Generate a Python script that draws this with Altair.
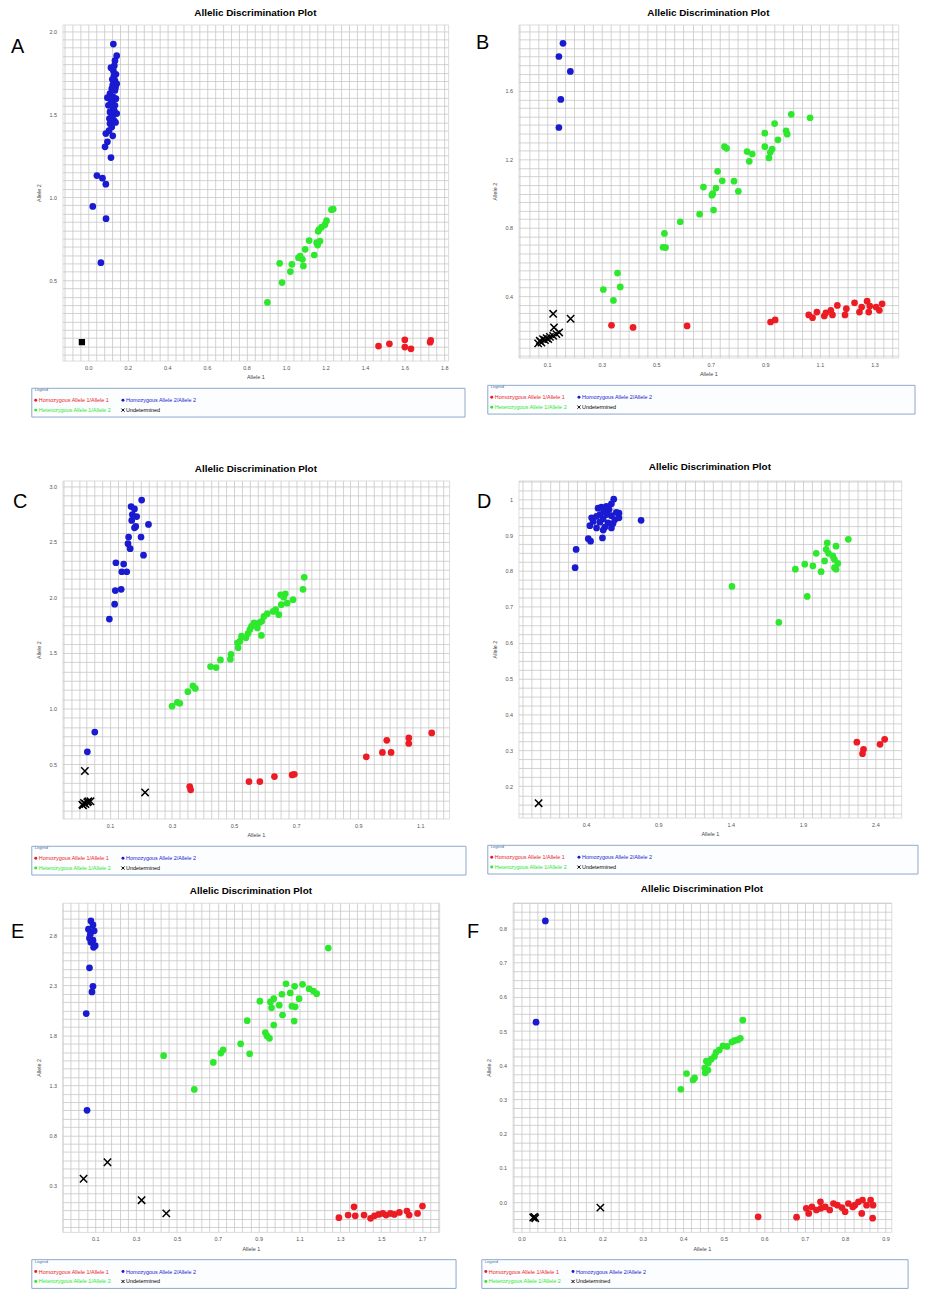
import altair as alt
import pandas as pd
import numpy as np

CALLS = ["Homozygous Allele 1/Allele 1", "Homozygous Allele 2/Allele 2",
         "Heterozygous Allele 1/Allele 2", "Undetermined"]
CALL_COLORS = ["#ec1c24", "#1a1ad0", "#2ee82e", "#000000"]
TITLE = "Allelic Discrimination Plot"
XPATH = "M-1,-1L1,1M-1,1L1,-1"

# ---------------- Panel A ----------------
A_HOM1_X = [1.468, 1.523, 1.601, 1.601, 1.632, 1.729, 1.732]
A_HOM1_Y = [0.102, 0.116, 0.140, 0.096, 0.086, 0.126, 0.136]
A_HOM2_X = [0.127, 0.144, 0.135, 0.132, 0.127, 0.130, 0.135, 0.124, 0.144, 0.119, 0.135, 0.110, 0.097,
            0.127, 0.140, 0.119, 0.102, 0.135, 0.127, 0.110, 0.144, 0.124, 0.107, 0.130, 0.110, 0.119,
            0.089, 0.124, 0.097, 0.085, 0.115, 0.044, 0.072, 0.089, 0.023, 0.090, 0.064,
            0.115, 0.140, 0.122, 0.138, 0.115, 0.132, 0.118, 0.138, 0.105]
A_HOM2_Y = [1.922, 1.852, 1.822, 1.792, 1.762, 1.732, 1.702, 1.677, 1.683, 1.653, 1.643, 1.623, 1.599,
            1.603, 1.593, 1.573, 1.553, 1.553, 1.533, 1.513, 1.503, 1.493, 1.473, 1.463, 1.443, 1.423,
            1.383, 1.369, 1.333, 1.303, 1.238, 1.130, 1.114, 1.078, 0.944, 0.870, 0.605,
            1.780, 1.740, 1.710, 1.660, 1.580, 1.520, 1.480, 1.450, 1.400]
A_HET_X = [1.239, 1.230, 1.205, 1.197, 1.180, 1.167, 1.163, 1.172, 1.155, 1.160, 1.117, 1.097, 1.143,
           1.072, 1.083, 1.063, 1.088, 1.030, 0.968, 1.022, 0.980, 0.906]
A_HET_Y = [0.928, 0.924, 0.858, 0.834, 0.819, 0.804, 0.794, 0.735, 0.725, 0.711, 0.738, 0.685, 0.651,
           0.645, 0.625, 0.635, 0.585, 0.595, 0.601, 0.551, 0.485, 0.365]
A_UND_X = [-0.032]
A_UND_Y = [0.126]
A_XTICKS = [0.0, 0.2, 0.4, 0.6, 0.8, 1.0, 1.2, 1.4, 1.6, 1.8]
A_YTICKS = [0.5, 1.0, 1.5, 2.0]

# ---------------- Panel B ----------------
B_HOM1_X = [0.336, 0.415, 0.613, 0.919, 0.936, 1.059, 1.073, 1.089, 1.116, 1.122, 1.140, 1.146, 1.164,
            1.192, 1.197, 1.227, 1.245, 1.253, 1.273, 1.279, 1.283, 1.306, 1.318, 1.328]
B_HOM1_Y = [0.230, 0.217, 0.226, 0.249, 0.261, 0.290, 0.274, 0.307, 0.284, 0.303, 0.317, 0.290, 0.346,
            0.290, 0.327, 0.361, 0.307, 0.336, 0.371, 0.307, 0.342, 0.336, 0.317, 0.355]
B_HOM2_X = [0.158, 0.143, 0.185, 0.150, 0.143]
B_HOM2_Y = [1.878, 1.801, 1.714, 1.550, 1.386]
B_HET_X = [0.995, 1.064, 0.934, 0.898, 0.976, 0.980, 0.946, 0.898, 0.925, 0.918, 0.913, 0.750, 0.758,
           0.833, 0.852, 0.841, 0.725, 0.742, 0.785, 0.801, 0.673, 0.719, 0.707, 0.704, 0.710, 0.659,
           0.588, 0.530, 0.525, 0.534, 0.358, 0.306, 0.368, 0.343]
B_HET_Y = [1.463, 1.443, 1.409, 1.353, 1.366, 1.347, 1.314, 1.274, 1.260, 1.241, 1.208, 1.274, 1.264,
           1.245, 1.231, 1.188, 1.130, 1.074, 1.072, 1.013, 1.038, 1.032, 0.999, 0.990, 0.903, 0.879,
           0.835, 0.767, 0.686, 0.684, 0.535, 0.439, 0.454, 0.375]
B_UND_X = [0.122, 0.186, 0.125, 0.144, 0.073, 0.085, 0.098, 0.110, 0.122, 0.067, 0.092, 0.134, 0.079, 0.104]
B_UND_Y = [0.297, 0.268, 0.217, 0.188, 0.139, 0.149, 0.155, 0.162, 0.168, 0.124, 0.143, 0.178, 0.129, 0.149]
B_XTICKS = [0.1, 0.3, 0.5, 0.7, 0.9, 1.1, 1.3]
B_YTICKS = [0.4, 0.8, 1.2, 1.6]

# ---------------- Panel C ----------------
C_HOM1_X = [0.357, 0.360, 0.548, 0.583, 0.630, 0.687, 0.694, 0.926, 0.978, 1.006, 0.992, 1.063, 1.063, 1.137]
C_HOM1_Y = [0.297, 0.268, 0.342, 0.342, 0.387, 0.402, 0.408, 0.565, 0.604, 0.604, 0.714, 0.735, 0.685, 0.780]
C_HOM2_X = [0.202, 0.168, 0.179, 0.172, 0.186, 0.170, 0.179, 0.183, 0.224, 0.160, 0.200, 0.158, 0.165,
            0.208, 0.119, 0.144, 0.138, 0.154, 0.136, 0.117, 0.115, 0.098, 0.051, 0.027]
C_HOM2_Y = [2.878, 2.819, 2.798, 2.747, 2.729, 2.694, 2.628, 2.640, 2.658, 2.545, 2.545, 2.485, 2.440,
            2.381, 2.313, 2.301, 2.232, 2.232, 2.074, 2.063, 1.940, 1.806, 0.788, 0.610]
C_HET_X = [0.726, 0.722, 0.690, 0.665, 0.660, 0.650, 0.652, 0.671, 0.644, 0.634, 0.626, 0.607, 0.596,
           0.589, 0.580, 0.575, 0.564, 0.556, 0.551, 0.545, 0.588, 0.538, 0.524, 0.519, 0.511, 0.513,
           0.490, 0.488, 0.456, 0.442, 0.424, 0.375, 0.351, 0.367, 0.325, 0.300, 0.317]
C_HET_Y = [2.182, 2.074, 1.980, 2.033, 2.003, 2.024, 1.935, 1.949, 1.845, 1.890, 1.875, 1.854, 1.830,
           1.786, 1.771, 1.726, 1.771, 1.741, 1.711, 1.676, 1.658, 1.637, 1.652, 1.607, 1.592, 1.548,
           1.488, 1.444, 1.438, 1.369, 1.378, 1.181, 1.152, 1.205, 1.047, 1.021, 1.056]
C_UND_X = [0.019, 0.213, 0.037, 0.011, 0.016, 0.021, 0.027, 0.013, 0.030]
C_UND_Y = [0.437, 0.244, 0.164, 0.134, 0.149, 0.140, 0.155, 0.128, 0.164]
C_XTICKS = [0.1, 0.3, 0.5, 0.7, 0.9, 1.1]
C_YTICKS = [0.5, 1.0, 1.5, 2.0, 2.5, 3.0]

# ---------------- Panel D ----------------
D_HOM1_X = [2.272, 2.318, 2.311, 2.432, 2.464]
D_HOM1_Y = [0.323, 0.303, 0.291, 0.317, 0.331]
D_HOM2_X = [0.592, 0.576, 0.542, 0.507, 0.484, 0.560, 0.523, 0.610, 0.628, 0.496, 0.542, 0.576, 0.439,
            0.473, 0.519, 0.599, 0.628, 0.781, 0.450, 0.496, 0.553, 0.587, 0.427, 0.473, 0.530, 0.576,
            0.519, 0.514, 0.416, 0.432, 0.332, 0.325]
D_HOM2_Y = [1.000, 0.987, 0.980, 0.978, 0.975, 0.971, 0.966, 0.963, 0.961, 0.957, 0.957, 0.954, 0.948,
            0.952, 0.945, 0.943, 0.948, 0.941, 0.938, 0.936, 0.934, 0.932, 0.926, 0.920, 0.922, 0.920,
            0.914, 0.892, 0.890, 0.883, 0.860, 0.809]
D_HET_X = [2.213, 2.067, 2.128, 2.060, 1.991, 2.076, 2.105, 2.049, 2.117, 2.140, 1.912, 1.968, 1.847,
           2.025, 2.117, 2.128, 1.409, 1.929, 1.733]
D_HET_Y = [0.888, 0.878, 0.869, 0.860, 0.849, 0.849, 0.842, 0.828, 0.832, 0.821, 0.819, 0.814, 0.805,
           0.798, 0.809, 0.805, 0.757, 0.729, 0.657]
D_UND_X = [0.073]
D_UND_Y = [0.153]
D_XTICKS = [0.4, 0.9, 1.4, 1.9, 2.4]
D_YTICKS = [0.2, 0.3, 0.4, 0.5, 0.6, 0.7, 0.8, 0.9, 1.0]

# ---------------- Panel E ----------------
E_HOM1_X = [1.293, 1.338, 1.367, 1.373, 1.416, 1.448, 1.467, 1.487, 1.508, 1.524, 1.545, 1.564, 1.589,
            1.626, 1.637, 1.678, 1.702]
E_HOM1_Y = [-0.024, 0.002, 0.085, -0.005, 0.002, -0.030, -0.005, 0.009, 0.019, 0.002, 0.019, 0.009, 0.029,
            0.042, 0.002, 0.019, 0.092]
E_HOM2_X = [0.079, 0.089, 0.067, 0.095, 0.076, 0.072, 0.089, 0.079, 0.100, 0.092, 0.072, 0.089, 0.084, 0.056, 0.060]
E_HOM2_Y = [2.946, 2.906, 2.863, 2.847, 2.813, 2.773, 2.753, 2.731, 2.698, 2.681, 2.476, 2.291, 2.235, 2.019, 1.051]
E_HET_X = [1.241, 1.034, 1.076, 1.115, 1.147, 1.168, 1.184, 1.055, 1.014, 1.098, 0.974, 0.958, 0.906,
           1.001, 0.963, 1.063, 1.079, 1.017, 0.844, 0.974, 1.074, 0.933, 0.941, 0.953, 0.812, 0.856,
           0.726, 0.715, 0.678, 0.435, 0.585]
E_HET_Y = [2.674, 2.317, 2.291, 2.311, 2.267, 2.244, 2.218, 2.225, 2.212, 2.168, 2.168, 2.135, 2.142,
           2.102, 2.076, 2.093, 2.086, 2.003, 1.947, 1.904, 1.944, 1.828, 1.795, 1.771, 1.716, 1.616,
           1.656, 1.623, 1.530, 1.597, 1.259]
E_UND_X = [0.043, 0.160, 0.327, 0.448]
E_UND_Y = [0.366, 0.531, 0.151, 0.019]
E_XTICKS = [0.1, 0.3, 0.5, 0.7, 0.9, 1.1, 1.3, 1.5, 1.7]
E_YTICKS = [0.3, 0.8, 1.3, 1.8, 2.3, 2.8]

# ---------------- Panel F ----------------
F_HOM1_X = [0.585, 0.680, 0.704, 0.710, 0.718, 0.729, 0.739, 0.740, 0.751, 0.762, 0.771, 0.781, 0.792,
            0.800, 0.808, 0.819, 0.824, 0.833, 0.841, 0.843, 0.853, 0.863, 0.869, 0.868]
F_HOM1_Y = [-0.043, -0.044, -0.018, -0.033, -0.014, -0.023, 0.001, -0.018, -0.014, -0.023, -0.004, -0.009,
            -0.016, -0.028, -0.004, -0.014, -0.009, 0.001, -0.033, 0.006, -0.009, 0.006, -0.009, -0.047]
F_HOM2_X = [0.059, 0.036]
F_HOM2_Y = [0.822, 0.526]
F_HET_X = [0.547, 0.541, 0.534, 0.526, 0.520, 0.508, 0.498, 0.489, 0.481, 0.477, 0.469, 0.462, 0.457,
           0.453, 0.461, 0.454, 0.428, 0.424, 0.408, 0.394]
F_HET_Y = [0.532, 0.479, 0.474, 0.472, 0.468, 0.455, 0.457, 0.445, 0.438, 0.426, 0.418, 0.407, 0.412,
           0.392, 0.386, 0.378, 0.363, 0.357, 0.376, 0.330]
F_UND_X = [0.032, 0.034, 0.029, 0.195]
F_UND_Y = [-0.043, -0.047, -0.045, -0.016]
F_XTICKS = [0.0, 0.1, 0.2, 0.3, 0.4, 0.5, 0.6, 0.7, 0.8, 0.9]
F_YTICKS = [0.0, 0.1, 0.2, 0.3, 0.4, 0.5, 0.6, 0.7, 0.8]

FONT = "Liberation Sans"
GRID_COLOR = "#c8c8c8"
LABEL_COLOR = "#555555"


def grid_values(ticks, sub, lo, hi):
    step = (ticks[1] - ticks[0]) / sub
    k0 = int(np.floor((lo - ticks[0]) / step))
    k1 = int(np.ceil((hi - ticks[0]) / step))
    vals = [round(ticks[0] + k * step, 6) for k in range(k0, k1 + 1)]
    return [v for v in vals if lo <= v <= hi]


def fmt(v, trim):
    s = f"{v:.1f}"
    if trim and s.endswith(".0"):
        s = s[:-2]
    return s


def label_expr(ticks, trim=False):
    expr = "''"
    for t in reversed(ticks):
        expr = f"abs(datum.value - ({t})) < 0.0001 ? '{fmt(t, trim)}' : ({expr})"
    return expr


def make_axis(ticks, sub, dom, title, trim=False, is_x=True):
    return alt.Axis(
        values=grid_values(ticks, sub, dom[0], dom[1]),
        labelExpr=label_expr(ticks, trim),
        grid=True, gridColor=GRID_COLOR, gridWidth=0.8,
        ticks=False, domain=False,
        labelFontSize=5.5, labelColor=LABEL_COLOR, labelFont=FONT,
        labelPadding=5 if is_x else 6, labelOverlap=False, labelFlush=False,
        title=title, titleFontSize=5.5, titleFontWeight="normal", titleColor="#444444",
        titleFont=FONT, titlePadding=4 if is_x else 8,
    )


def panel(letter, series, cfg):
    rows = []
    for call, (xs, ys) in zip(CALLS, series):
        for xv, yv in zip(xs, ys):
            rows.append({"x": xv, "y": yv, "call": call})
    df = pd.DataFrame(rows)
    W, H = cfg["size"]
    color = alt.Color("call:N", scale=alt.Scale(domain=CALLS, range=CALL_COLORS), legend=None)

    base = alt.Chart(df).encode(
        x=alt.X("x:Q", scale=alt.Scale(domain=cfg["xdom"], nice=False, zero=False),
                axis=make_axis(cfg["xticks"], cfg["xsub"], cfg["xdom"], "Allele 1", is_x=True)),
        y=alt.Y("y:Q", scale=alt.Scale(domain=cfg["ydom"], nice=False, zero=False),
                axis=make_axis(cfg["yticks"], cfg["ysub"], cfg["ydom"], "Allele 2",
                               trim=cfg.get("ytrim", False), is_x=False)),
        color=color,
    )
    dots = base.transform_filter(
        alt.FieldOneOfPredicate(field="call", oneOf=CALLS[:3])
    ).mark_circle(size=46, opacity=1)
    und_base = base.transform_filter(alt.FieldEqualPredicate(field="call", equal=CALLS[3]))
    if cfg.get("und_square"):
        und = und_base.mark_square(size=40, opacity=1)
    else:
        und = und_base.mark_point(shape=XPATH, filled=False, strokeWidth=1.5, size=55, opacity=1)

    one = pd.DataFrame({"t": [letter], "leg": ["Legend"]})
    lx0, lx1 = -31, W + 17
    ly0, ly1 = H + 28, H + 57
    box = alt.Chart(one).mark_rect(fill="#fbfdff", stroke="#8fa8c8", strokeWidth=1).encode(
        x=alt.value(lx0), x2=alt.value(lx1), y=alt.value(ly0), y2=alt.value(ly1))
    box_title = alt.Chart(one).mark_text(
        align="left", baseline="middle", fontSize=4, font=FONT, color="#4a6fa5"
    ).encode(text="leg:N", x=alt.value(lx0 + 3), y=alt.value(ly0 + 2))
    letter_mark = alt.Chart(one).mark_text(
        align="left", baseline="middle", fontSize=20, font=FONT, color="black"
    ).encode(text="t:N", x=alt.value(cfg["letter"][0]), y=alt.value(cfg["letter"][1]))

    leg_df = pd.DataFrame({"call": CALLS,
                           "col": [i % 2 for i in range(len(CALLS))],
                           "row": [i // 2 for i in range(len(CALLS))]})
    leg_base = alt.Chart(leg_df).encode(
        x=alt.X("col:Q", scale=alt.Scale(domain=[0, 1], range=[lx0 + 4, lx0 + 92]), axis=None),
        y=alt.Y("row:Q", scale=alt.Scale(domain=[0, 1], range=[ly0 + 12, ly0 + 22]), axis=None),
        color=color,
    )
    leg_dots = leg_base.transform_filter(
        alt.FieldOneOfPredicate(field="call", oneOf=CALLS[:3])
    ).mark_circle(size=9, opacity=1)
    leg_x = leg_base.transform_filter(
        alt.FieldEqualPredicate(field="call", equal=CALLS[3])
    ).mark_point(shape=XPATH, filled=False, size=10, strokeWidth=1, opacity=1)
    leg_text = leg_base.mark_text(
        align="left", baseline="middle", dx=3, fontSize=5.5, font=FONT
    ).encode(text="call:N")

    main = alt.layer(box, box_title, dots, und, letter_mark)
    legend = alt.layer(leg_dots, leg_x, leg_text)
    return alt.layer(main, legend).resolve_scale(x="independent", y="independent").properties(
        width=W, height=H,
        title=alt.TitleParams(TITLE, fontSize=10, fontWeight="bold", font=FONT, frame="group",
                              anchor="middle", offset=7, color="black"),
    )


pA = panel("A", [(A_HOM1_X, A_HOM1_Y), (A_HOM2_X, A_HOM2_Y), (A_HET_X, A_HET_Y), (A_UND_X, A_UND_Y)],
           dict(size=(389, 339), xdom=[-0.13, 1.82], ydom=[0.015, 2.04], xticks=A_XTICKS, xsub=5,
                yticks=A_YTICKS, ysub=10, letter=(-52, 23), und_square=True))
pB = panel("B", [(B_HOM1_X, B_HOM1_Y), (B_HOM2_X, B_HOM2_Y), (B_HET_X, B_HET_Y), (B_UND_X, B_UND_Y)],
           dict(size=(383, 336), xdom=[-0.005, 1.387], ydom=[0.041, 1.988], xticks=B_XTICKS, xsub=6,
                yticks=B_YTICKS, ysub=8, letter=(-43, 19)))
pC = panel("C", [(C_HOM1_X, C_HOM1_Y), (C_HOM2_X, C_HOM2_Y), (C_HET_X, C_HET_Y), (C_UND_X, C_UND_Y)],
           dict(size=(390, 341), xdom=[-0.053, 1.193], ydom=[0.009, 3.054], xticks=C_XTICKS, xsub=8,
                yticks=C_YTICKS, ysub=6, letter=(-50, 22)))
pD = panel("D", [(D_HOM1_X, D_HOM1_Y), (D_HOM2_X, D_HOM2_Y), (D_HET_X, D_HET_Y), (D_UND_X, D_UND_Y)],
           dict(size=(386, 340), xdom=[-0.066, 2.578], ydom=[0.113, 1.052], xticks=D_XTICKS, xsub=8,
                yticks=D_YTICKS, ysub=4, letter=(-42, 22), ytrim=True))
pE = panel("E", [(E_HOM1_X, E_HOM1_Y), (E_HOM2_X, E_HOM2_Y), (E_HET_X, E_HET_Y), (E_UND_X, E_UND_Y)],
           dict(size=(380, 332), xdom=[-0.060, 1.784], ydom=[-0.166, 3.127], xticks=E_XTICKS, xsub=5,
                yticks=E_YTICKS, ysub=6, letter=(-52, 30)))
pF = panel("F", [(F_HOM1_X, F_HOM1_Y), (F_HOM2_X, F_HOM2_Y), (F_HET_X, F_HET_Y), (F_UND_X, F_UND_Y)],
           dict(size=(382, 332), xdom=[-0.022, 0.914], ydom=[-0.087, 0.875], xticks=F_XTICKS, xsub=5,
                yticks=F_YTICKS, ysub=4, letter=(-46, 30)))

row1 = alt.hconcat(pA, pB, spacing=9)
row2 = alt.hconcat(pC, pD, spacing=9)
row3 = alt.hconcat(pE, pF, spacing=9)

chart = alt.vconcat(row1, alt.vconcat(row2, row3, spacing=7), spacing=44).properties(
    padding={"left": 2, "top": -7, "right": 0, "bottom": 0},
    background="white",
).configure_view(stroke="#8c8c8c", strokeWidth=2).configure(font=FONT)

chart.save("out.html", embed_options={"renderer": "svg", "actions": False})
